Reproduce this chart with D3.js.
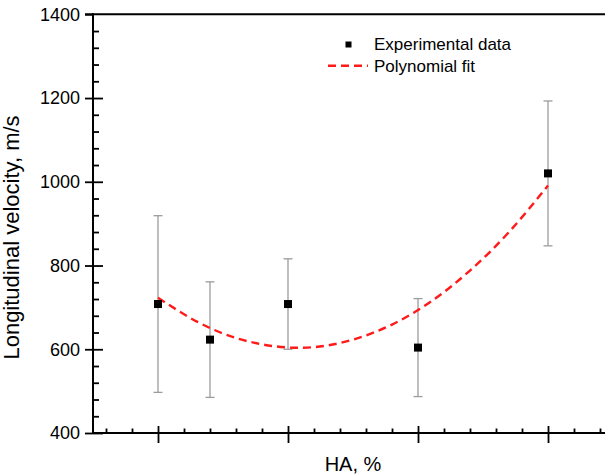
<!DOCTYPE html>
<html>
<head>
<meta charset="utf-8">
<script src="https://cdn.jsdelivr.net/npm/d3@7/dist/d3.min.js"></script>
<style>
  html, body { margin: 0; padding: 0; background: #fff; }
  svg { display: block; }
  text { font-family: "Liberation Sans", Arial, sans-serif; fill: #000; }
</style>
</head>
<body>
<svg id="chart" width="605" height="475"></svg>
<script>
// ---- data ----
const haPercent = [0, 4, 10, 20, 30];
const velocity = [708, 623, 708, 604, 1020];
const velocityError = [211, 138, 108, 117, 173];

const fitHA = [0, 3, 6, 9, 12, 15, 18, 21, 24, 27, 30];
const fitVelocity = [723, 666, 627, 607, 605, 623, 659, 714, 788, 880, 991];

const yMajorTicks = [400, 600, 800, 1000, 1200, 1400];
const yMinorTicks = [440, 480, 520, 560, 640, 680, 720, 760, 840, 880, 920, 960,
                     1040, 1080, 1120, 1160, 1240, 1280, 1320, 1360];
const xMajorTicks = [0, 10, 20, 30];
const xMinorTicks = [-4, -2, 2, 4, 6, 8, 12, 14, 16, 18, 22, 24, 26, 28, 32, 34];

const legendLabels = ["Experimental data", "Polynomial fit"];
const xTitle = "HA, %";
const yTitle = "Longitudinal velocity, m/s";

// ---- layout ----
const svg = d3.select("#chart");
const pLeft = 93, pRight = 613, pTop = 14.3, pBottom = 433;

const x = d3.scaleLinear().domain([-5, 35]).range([pLeft, pRight]);
const y = d3.scaleLinear().domain([400, 1400]).range([pBottom, pTop]);

// x axis: major ticks crossing, minor inward
svg.append("g").attr("transform", `translate(0,${pBottom})`)
  .call(d3.axisBottom(x).tickValues(xMajorTicks).tickSize(10).tickSizeOuter(0).tickFormat(""))
  .call(g => g.select(".domain").remove());
svg.append("g").attr("transform", `translate(0,${pBottom})`)
  .call(d3.axisTop(x).tickValues(xMajorTicks).tickSize(7).tickSizeOuter(0).tickFormat(""))
  .call(g => g.select(".domain").remove());
svg.append("g").attr("transform", `translate(0,${pBottom})`)
  .call(d3.axisTop(x).tickValues(xMinorTicks).tickSize(4.5).tickSizeOuter(0).tickFormat(""))
  .call(g => g.select(".domain").remove());

// y axis: major ticks crossing with labels, minor inward
svg.append("g").attr("transform", `translate(${pLeft},0)`)
  .call(d3.axisLeft(y).tickValues(yMajorTicks).tickSize(8).tickPadding(5).tickSizeOuter(0).tickFormat(d3.format("d")))
  .call(g => g.select(".domain").remove())
  .call(g => g.selectAll("text").style("font-size", "18px").style("font-family", "'Liberation Sans', Arial, sans-serif").attr("fill", "#000"));
svg.append("g").attr("transform", `translate(${pLeft},0)`)
  .call(d3.axisRight(y).tickValues(yMajorTicks.filter(v => v !== 1400)).tickSize(10).tickSizeOuter(0).tickFormat(""))
  .call(g => g.select(".domain").remove());
svg.append("g").attr("transform", `translate(${pLeft},0)`)
  .call(d3.axisRight(y).tickValues(yMinorTicks).tickSize(6).tickSizeOuter(0).tickFormat(""))
  .call(g => g.select(".domain").remove());

svg.selectAll(".tick line").attr("stroke", "#000").attr("stroke-width", 1.8);

// frame lines
const frame = svg.append("g").attr("stroke", "#000").attr("stroke-width", 2).attr("fill", "none");
frame.append("line").attr("x1", pLeft).attr("x2", pLeft).attr("y1", pTop - 1).attr("y2", pBottom + 1);
frame.append("line").attr("x1", pLeft - 1).attr("x2", pRight).attr("y1", pBottom).attr("y2", pBottom);
frame.append("line").attr("x1", pLeft - 8).attr("x2", pRight).attr("y1", pTop).attr("y2", pTop);
frame.append("line").attr("x1", pRight).attr("x2", pRight).attr("y1", pTop).attr("y2", pBottom);

// error bars
const pts = haPercent.map((h, i) => ({ h, v: velocity[i], e: velocityError[i] }));
const eb = svg.append("g").attr("stroke", "#9c9c9c").attr("stroke-width", 1.3);
pts.forEach(p => {
  eb.append("line").attr("x1", x(p.h)).attr("x2", x(p.h)).attr("y1", y(p.v + p.e)).attr("y2", y(p.v - p.e));
  eb.append("line").attr("x1", x(p.h) - 4.5).attr("x2", x(p.h) + 4.5).attr("y1", y(p.v + p.e)).attr("y2", y(p.v + p.e));
  eb.append("line").attr("x1", x(p.h) - 4.5).attr("x2", x(p.h) + 4.5).attr("y1", y(p.v - p.e)).attr("y2", y(p.v - p.e));
});

// fit curve
const fitLine = d3.line().x(d => x(d[0])).y(d => y(d[1])).curve(d3.curveNatural);
svg.append("path")
  .datum(fitHA.map((h, i) => [h, fitVelocity[i]]))
  .attr("d", fitLine)
  .attr("fill", "none").attr("stroke", "#ff1a1a").attr("stroke-width", 2.4)
  .attr("stroke-dasharray", "8,5");

// markers
const ms = 8;
svg.append("g").selectAll("rect").data(pts).join("rect")
  .attr("x", d => x(d.h) - ms / 2).attr("y", d => y(d.v) - ms / 2)
  .attr("width", ms).attr("height", ms).attr("fill", "#000");

// legend
const lg = svg.append("g");
lg.append("rect").attr("x", 345.5).attr("y", 41.5).attr("width", 6).attr("height", 6).attr("fill", "#000");
lg.append("line").attr("x1", 328).attr("x2", 368).attr("y1", 65.7).attr("y2", 65.7)
  .attr("stroke", "#ff1a1a").attr("stroke-width", 2.4).attr("stroke-dasharray", "8,5");
lg.selectAll("text").data(legendLabels).join("text")
  .attr("x", 374).attr("y", (d, i) => 50 + i * 21.5)
  .style("font-size", "17px").text(d => d);

// axis titles
svg.append("text").attr("x", 353).attr("y", 470.7).attr("text-anchor", "middle")
  .style("font-size", "20px").text(xTitle);
svg.append("text").attr("transform", "translate(18.5,237.5) rotate(-90)").attr("text-anchor", "middle")
  .style("font-size", "22px").text(yTitle);
</script>
</body>
</html>
